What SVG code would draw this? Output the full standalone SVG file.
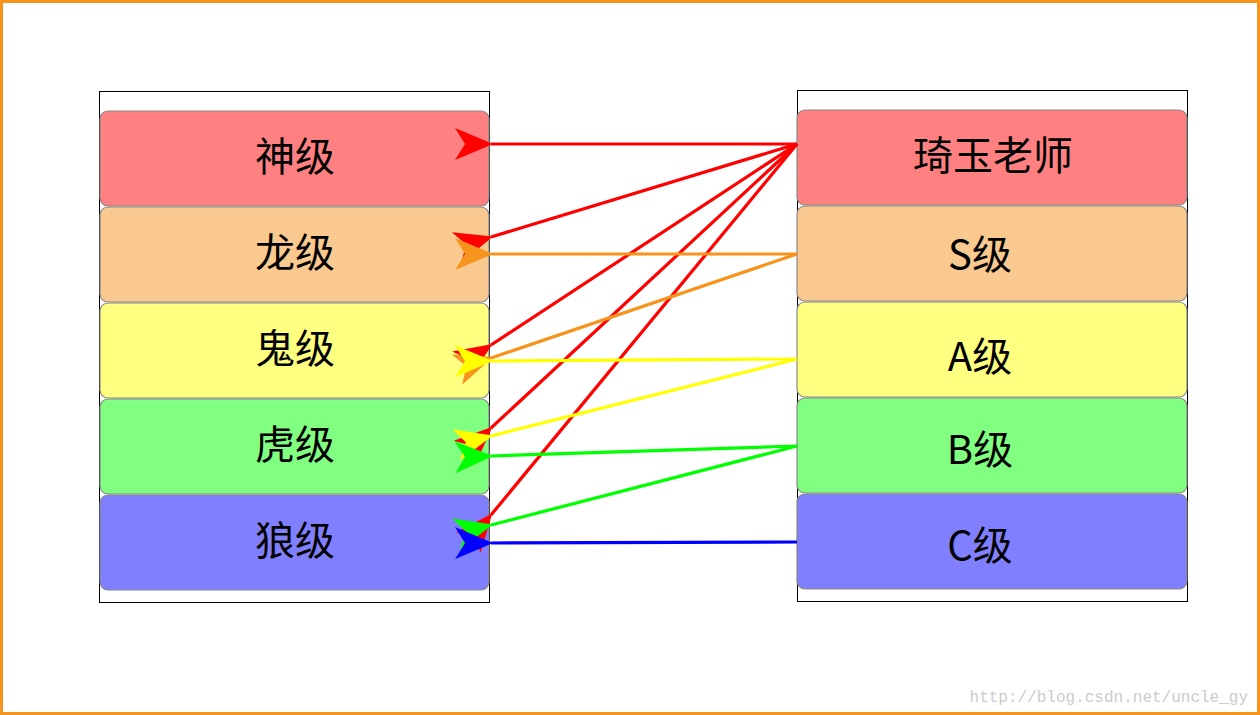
<svg xmlns="http://www.w3.org/2000/svg" width="1260" height="715" viewBox="0 0 1260 715">
<defs>
<style>
.n{stroke:#888;stroke-width:1.2}
.t{font-family:"Noto Sans CJK SC","Liberation Sans",sans-serif;font-size:40px;text-anchor:middle;fill:#000}
.c path{fill:none;stroke-width:3.2}
.fr{fill:none;stroke:#000;stroke-width:1}
</style>
<marker id="mr" viewBox="0 0 40 32" refX="2" refY="16" markerWidth="40" markerHeight="32" markerUnits="userSpaceOnUse" orient="auto"><path d="M0,16 L38,0 L28,16 L38,32 Z" fill="#f00"/></marker>
<marker id="mo" viewBox="0 0 40 32" refX="2" refY="16" markerWidth="40" markerHeight="32" markerUnits="userSpaceOnUse" orient="auto"><path d="M0,16 L38,0 L28,16 L38,32 Z" fill="#F7941D"/></marker>
<marker id="my" viewBox="0 0 40 32" refX="2" refY="16" markerWidth="40" markerHeight="32" markerUnits="userSpaceOnUse" orient="auto"><path d="M0,16 L38,0 L28,16 L38,32 Z" fill="#ff0"/></marker>
<marker id="mg" viewBox="0 0 40 32" refX="2" refY="16" markerWidth="40" markerHeight="32" markerUnits="userSpaceOnUse" orient="auto"><path d="M0,16 L38,0 L28,16 L38,32 Z" fill="#0f0"/></marker>
<marker id="mb" viewBox="0 0 40 32" refX="2" refY="16" markerWidth="40" markerHeight="32" markerUnits="userSpaceOnUse" orient="auto"><path d="M0,16 L38,0 L28,16 L38,32 Z" fill="#00f"/></marker>
</defs>
<rect x="0" y="0" width="1260" height="715" fill="#fff"/>
<rect x="1.5" y="1.5" width="1257" height="712" fill="none" stroke="#F7941D" stroke-width="3"/>
<rect class="fr" x="99.5" y="91.5" width="390" height="511"/>
<rect class="fr" x="797.5" y="90.5" width="390" height="511"/>
<g id="l1"><rect class="n" x="100" y="111" width="389" height="95" rx="8" fill="#FF8080"/><text class="t" x="295" y="171">神级</text></g>
<g id="l2"><rect class="n" x="100" y="207" width="389" height="95" rx="8" fill="#FAC98F"/><text class="t" x="295" y="267">龙级</text></g>
<g id="l3"><rect class="n" x="100" y="303" width="389" height="95" rx="8" fill="#FFFF80"/><text class="t" x="295" y="363">鬼级</text></g>
<g id="l4"><rect class="n" x="100" y="399" width="389" height="95" rx="8" fill="#80FF80"/><text class="t" x="295" y="459">虎级</text></g>
<g id="l5"><rect class="n" x="100" y="495" width="389" height="95" rx="8" fill="#8080FF"/><text class="t" x="295" y="555">狼级</text></g>
<g id="r1"><rect class="n" x="797" y="110" width="390" height="95" rx="8" fill="#FF8080"/><text class="t" x="993" y="170">琦玉老师</text></g>
<g id="r2"><rect class="n" x="797" y="206" width="390" height="95" rx="8" fill="#FAC98F"/><text class="t" x="980" y="269">S级</text></g>
<g id="r3"><rect class="n" x="797" y="302" width="390" height="95" rx="8" fill="#FFFF80"/><text class="t" x="980" y="371">A级</text></g>
<g id="r4"><rect class="n" x="797" y="398" width="390" height="95" rx="8" fill="#80FF80"/><text class="t" x="980" y="464">B级</text></g>
<g id="r5"><rect class="n" x="797" y="494" width="390" height="95" rx="8" fill="#8080FF"/><text class="t" x="980" y="560">C级</text></g>
<g class="c" id="connectors">
<path d="M797,144 L491,144" stroke="#f00" marker-end="url(#mr)"/>
<path d="M797,144 L491,237" stroke="#f00" marker-end="url(#mr)"/>
<path d="M797,144 L491,345" stroke="#f00" marker-end="url(#mr)"/>
<path d="M797,144 L491,428" stroke="#f00" marker-end="url(#mr)"/>
<path d="M797,144 L491,515" stroke="#f00" marker-end="url(#mr)"/>
<path d="M797,254 L491,254" stroke="#F7941D" marker-end="url(#mo)"/>
<path d="M797,254 L491,358" stroke="#F7941D" marker-end="url(#mo)"/>
<path d="M797,359 L491,361" stroke="#ff0" marker-end="url(#my)"/>
<path d="M797,359 L491,436" stroke="#ff0" marker-end="url(#my)"/>
<path d="M797,446 L491,456" stroke="#0f0" marker-end="url(#mg)"/>
<path d="M797,446 L491,525" stroke="#0f0" marker-end="url(#mg)"/>
<path d="M797,542 L491,543" stroke="#00f" marker-end="url(#mb)"/>
</g>
<text x="1248" y="702" font-family="Liberation Mono,monospace" font-size="16" fill="#ccc" text-anchor="end">http://blog.csdn.net/uncle_gy</text>
</svg>
